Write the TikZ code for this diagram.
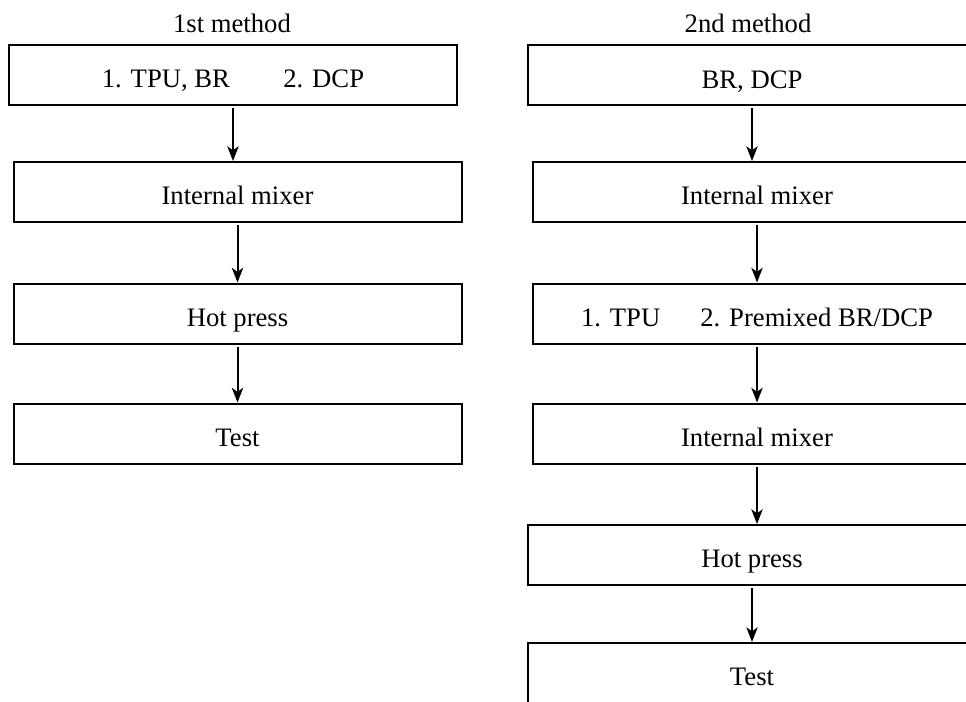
\documentclass[tikz,border=0pt]{standalone}
\usepackage{fontspec}
\setmainfont{Liberation Serif}
\usetikzlibrary{arrows.meta}

\tikzset{
  stage/.style={draw, line width=1.5pt, minimum width=336pt, minimum height=45pt, inner sep=0pt,
    text height=19pt, text depth=0pt, font=\fontsize{20}{24}\selectfont},
  heading/.style={font=\fontsize{20}{24}\selectfont},
  flow/.style={-{Stealth[length=11pt,width=8.5pt,inset=3pt]}, line width=1.5pt}
}

\begin{document}
\begin{tikzpicture}[x=0.75pt,y=-0.75pt]
  \clip (0,0) rectangle (966,702);

  \node[heading] (head1) at (232,23) {1st method};
  \node[stage] (m1a) at (233,75) {1. TPU, BR\hspace{40pt}2. DCP};
  \node[stage] (m1b) at (237.5,192) {Internal mixer};
  \node[stage] (m1c) at (237.5,313.5) {Hot press};
  \node[stage] (m1d) at (237.5,433.5) {Test};

  \draw[flow] ([yshift=-1.5pt]m1a.south) -- (m1a.south |- m1b.north);
  \draw[flow] ([yshift=-1.5pt]m1b.south) -- (m1c.north);
  \draw[flow] ([yshift=-1.5pt]m1c.south) -- (m1d.north);

  \node[heading] (head2) at (748,23) {2nd method};
  \node[stage] (m2a) at (752,75.5) {BR, DCP};
  \node[stage] (m2b) at (757,192) {Internal mixer};
  \node[stage] (m2c) at (757,313.5) {1. TPU\hspace{30pt}2. Premixed BR/DCP};
  \node[stage] (m2d) at (757,433.5) {Internal mixer};
  \node[stage] (m2e) at (752,555) {Hot press};
  \node[stage] (m2f) at (752,673) {Test};

  \draw[flow] ([yshift=-1.5pt]m2a.south) -- (m2a.south |- m2b.north);
  \draw[flow] ([yshift=-1.5pt]m2b.south) -- (m2c.north);
  \draw[flow] ([yshift=-1.5pt]m2c.south) -- (m2d.north);
  \draw[flow] ([yshift=-1.5pt]m2d.south) -- (m2d.south |- m2e.north);
  \draw[flow] ([yshift=-1.5pt]m2e.south) -- (m2f.north);
\end{tikzpicture}
\end{document}
